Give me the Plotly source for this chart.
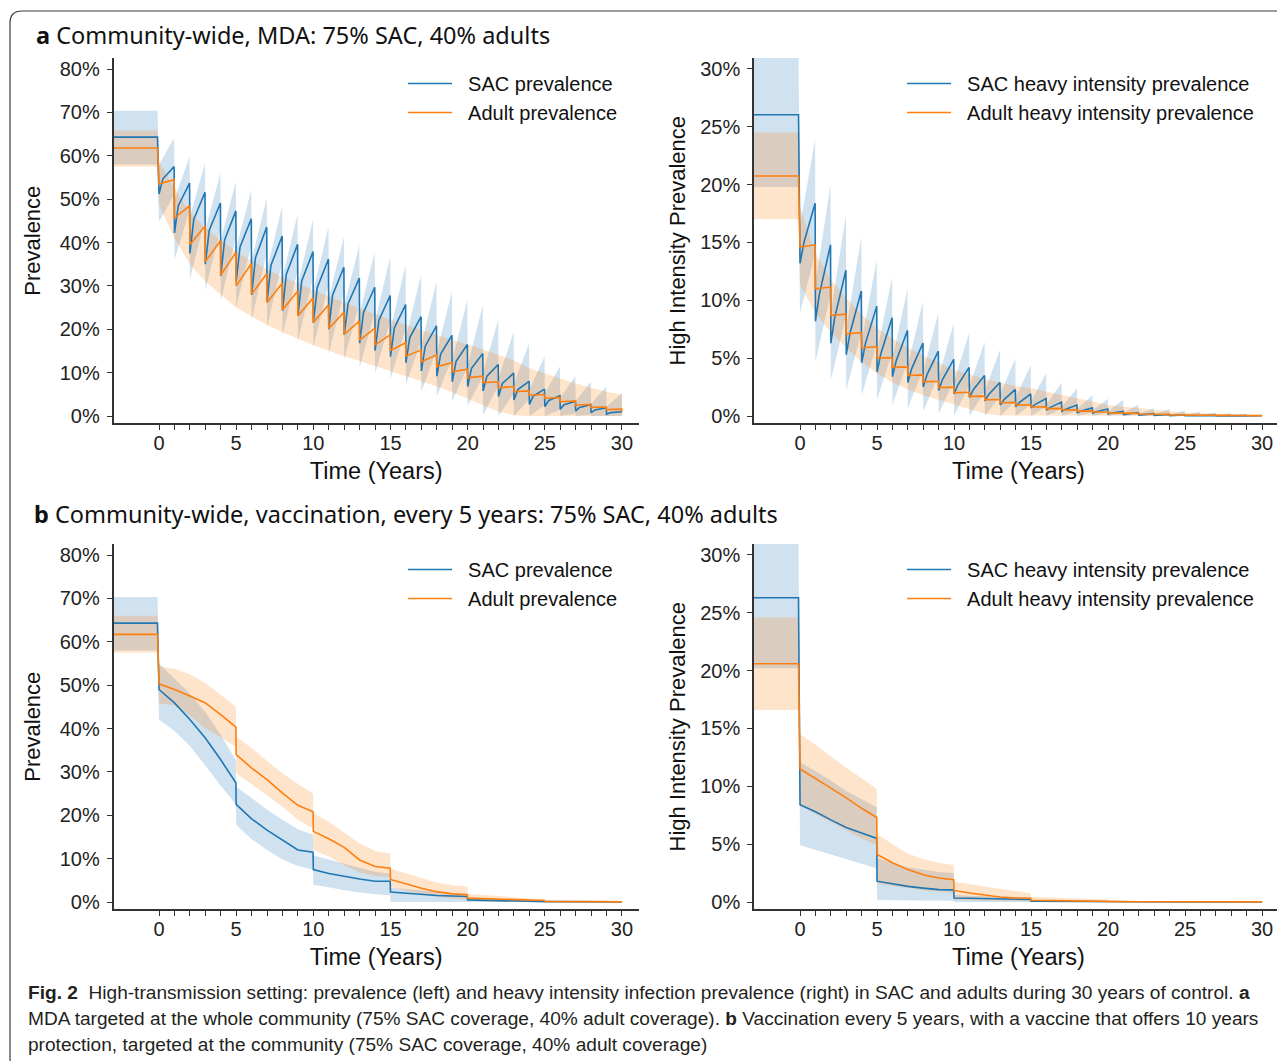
import plotly.graph_objects as go

W, H = 1285, 1061
OFF = 8                      # page body margin of the browser
FW, FH = W - OFF, H - OFF    # figure size so it ends at the window edge

# ======================= DATA (values in %) =======================
mda_years = list(range(30))          # yearly MDA rounds, t = 0..29
end_year = 30

# ---- Panel a-left: prevalence under community-wide MDA ----
mda_prev_pre = dict(sac=64.3, sac_lo=58.0, sac_hi=70.4, adult=61.8, adult_lo=57.5, adult_hi=65.8)
mda_prev_sac_trough = [51.2, 42.2, 37.5, 35.0, 32.3, 31.0, 27.9, 26.4, 24.3, 23.1, 21.5, 20.0, 18.7, 16.8, 15.1,
                       13.7, 12.3, 10.4, 9.2, 7.9, 6.8, 5.8, 4.5, 3.7, 2.7, 2.2, 1.6, 1.2, 0.8, 0.4]
mda_prev_sac_mid = [54.7, 48.5, 45.3, 42.8, 40.6, 39.0, 36.5, 34.7, 32.7, 31.2, 29.6, 27.9, 25.9, 23.9, 22.1,
                    20.3, 18.1, 16.1, 14.3, 12.6, 11.0, 9.2, 7.5, 6.1, 4.6, 3.6, 2.6, 2.0, 1.4, 0.8]
mda_prev_sac_peak = [57.5, 53.7, 51.6, 49.1, 47.3, 45.5, 43.6, 41.5, 39.6, 37.9, 36.2, 34.3, 31.8, 29.7, 27.8,
                     25.7, 22.9, 20.8, 18.6, 16.5, 14.4, 11.9, 9.9, 8.0, 6.2, 4.7, 3.4, 2.6, 1.9, 1.1]
mda_prev_sac_final = 1.0
mda_prev_sac_hi_trough = [58.0, 50.0, 46.0, 43.0, 40.5, 38.5, 36.0, 34.0, 32.0, 30.5, 29.0, 27.3, 25.5, 23.7, 21.8,
                          20.0, 18.3, 16.3, 14.7, 13.0, 11.6, 10.2, 8.7, 7.5, 6.2, 5.2, 4.3, 3.5, 2.8, 2.2]
mda_prev_sac_hi_peak = [64.1, 59.8, 58.3, 56.0, 54.1, 52.2, 50.2, 48.3, 46.5, 45.3, 43.6, 41.3, 39.4, 37.9, 36.7,
                        34.8, 32.5, 31.0, 28.7, 26.7, 25.6, 22.1, 19.4, 16.8, 13.7, 11.4, 9.1, 7.9, 6.8, 5.2]
mda_prev_sac_lo_trough = [44.8, 36.0, 31.5, 29.0, 26.5, 25.0, 22.0, 20.5, 18.5, 17.3, 15.8, 14.3, 13.0, 11.2, 9.8,
                          8.6, 7.2, 5.6, 4.5, 3.4, 2.3, 0.2, 0.0, 0.0, 0.0, 0.0, 0.0, 0.0, 0.0, 0.0]
mda_prev_sac_lo_peak = [51.0, 47.5, 45.5, 43.0, 41.3, 39.5, 37.6, 35.5, 33.6, 32.0, 30.3, 28.5, 26.0, 24.0, 22.0,
                        20.0, 17.3, 15.2, 13.2, 11.2, 9.2, 7.0, 5.3, 3.8, 2.5, 1.4, 0.6, 0.3, 0.1, 0.0]
mda_prev_sac_band_final = (0.0, 5.0)
mda_prev_adult_trough = [53.5, 45.6, 39.5, 35.6, 32.5, 30.0, 28.1, 26.2, 24.5, 23.1, 21.6, 20.2, 18.8, 17.5, 16.4,
                         15.1, 13.8, 12.5, 11.4, 10.2, 8.8, 7.7, 6.5, 5.6, 4.8, 4.1, 3.3, 2.5, 2.0, 1.5]
mda_prev_adult_peak = [54.5, 48.5, 43.8, 40.4, 37.7, 35.1, 32.8, 30.6, 28.8, 27.2, 25.6, 23.9, 21.9, 20.2, 18.7,
                       16.9, 15.2, 14.1, 12.3, 10.8, 9.2, 7.9, 6.8, 5.8, 5.0, 4.3, 3.5, 2.7, 2.1, 1.6]
mda_prev_adult_final = 1.0
mda_prev_adult_hi = [58.7, 52.5, 47.0, 43.5, 40.5, 38.0, 35.8, 33.8, 32.0, 30.5, 29.0, 27.6, 26.2, 24.8, 23.5,
                     22.2, 21.0, 19.8, 18.7, 17.6, 16.5, 15.4, 14.1, 12.8, 11.0, 9.8, 8.6, 7.5, 6.5, 5.6, 4.9]
mda_prev_adult_lo = [48.7, 41.0, 35.0, 31.0, 28.0, 25.0, 23.0, 21.0, 19.3, 17.8, 16.3, 15.0, 13.8, 12.7, 11.5,
                     10.3, 9.2, 8.0, 6.8, 5.5, 4.0, 2.5, 1.0, 0.2, 0.0, 0.0, 0.0, 0.0, 0.0, 0.0, 0.0]

# ---- Panel a-right: heavy intensity prevalence under community-wide MDA ----
mda_heavy_pre = dict(sac=26.05, sac_lo=19.8, sac_hi=31.5, adult=20.75, adult_lo=17.0, adult_hi=24.5)
mda_heavy_sac_trough = [13.2, 8.2, 6.3, 5.3, 4.6, 3.8, 3.4, 2.9, 2.5, 2.2, 1.9, 1.6, 1.3, 0.95, 0.8,
                        0.7, 0.5, 0.4, 0.3, 0.25, 0.18, 0.12, 0.08, 0.05, 0.03, 0.02, 0.02, 0.01, 0.01, 0.01]
mda_heavy_sac_mid = [15.0, 10.5, 8.5, 7.2, 6.3, 5.4, 4.8, 4.1, 3.6, 3.15, 2.7, 2.27, 1.86, 1.42, 1.19,
                     0.98, 0.75, 0.59, 0.44, 0.37, 0.26, 0.18, 0.12, 0.08, 0.05, 0.03, 0.03, 0.02, 0.02, 0.02]
mda_heavy_sac_peak = [18.4, 14.8, 12.6, 10.8, 9.5, 8.5, 7.4, 6.3, 5.6, 4.9, 4.2, 3.5, 2.9, 2.3, 1.9,
                      1.5, 1.2, 0.95, 0.7, 0.6, 0.4, 0.3, 0.2, 0.13, 0.08, 0.06, 0.05, 0.04, 0.03, 0.03]
mda_heavy_sac_final = 0.02
mda_heavy_sac_hi_trough = [16.5, 11.5, 9.0, 7.6, 6.5, 5.6, 5.0, 4.4, 3.9, 3.4, 3.0, 2.6, 2.2, 1.9, 1.6,
                           1.3, 1.0, 0.8, 0.6, 0.5, 0.4, 0.3, 0.2, 0.15, 0.1, 0.08, 0.06, 0.05, 0.04, 0.03]
mda_heavy_sac_hi_peak = [23.9, 20.0, 17.4, 15.5, 13.5, 12.0, 11.0, 9.9, 8.9, 8.0, 7.2, 6.4, 5.7, 5.0, 4.4,
                         3.7, 2.9, 2.4, 1.8, 1.5, 1.4, 1.0, 0.66, 0.6, 0.45, 0.37, 0.3, 0.25, 0.2, 0.15]
mda_heavy_sac_lo_trough = [8.9, 4.7, 3.1, 2.25, 1.8, 1.4, 0.95, 0.66, 0.4, 0.2, 0.05, 0.0, 0.0, 0.0, 0.0,
                           0.0, 0.0, 0.0, 0.0, 0.0, 0.0, 0.0, 0.0, 0.0, 0.0, 0.0, 0.0, 0.0, 0.0, 0.0]
mda_heavy_sac_lo_peak = [14.0, 10.5, 8.6, 7.2, 6.2, 5.5, 4.7, 4.0, 3.5, 3.0, 2.6, 2.1, 1.7, 1.3, 1.0,
                         0.8, 0.6, 0.45, 0.3, 0.25, 0.15, 0.1, 0.05, 0.03, 0.02, 0.01, 0.0, 0.0, 0.0, 0.0]
mda_heavy_sac_band_final = (0.0, 0.12)
mda_heavy_adult_trough = [14.6, 11.0, 8.7, 7.1, 5.9, 5.0, 4.2, 3.5, 2.95, 2.45, 2.0, 1.7, 1.4, 1.15, 0.95,
                          0.78, 0.64, 0.52, 0.42, 0.34, 0.27, 0.22, 0.17, 0.13, 0.10, 0.08, 0.06, 0.05, 0.04, 0.03]
mda_heavy_adult_peak = [14.8, 11.15, 8.8, 7.2, 6.0, 5.05, 4.25, 3.55, 3.0, 2.5, 2.05, 1.72, 1.43, 1.18, 0.97,
                        0.8, 0.66, 0.54, 0.44, 0.35, 0.28, 0.23, 0.18, 0.14, 0.11, 0.08, 0.06, 0.05, 0.04, 0.03]
mda_heavy_adult_final = 0.02
mda_heavy_adult_hi = [18.1, 14.1, 11.8, 10.2, 8.8, 7.6, 6.7, 5.9, 5.2, 4.6, 4.0, 3.6, 3.2, 2.9, 2.6, 2.4,
                      2.1, 1.8, 1.5, 1.2, 0.95, 0.8, 0.65, 0.52, 0.4, 0.3, 0.24, 0.18, 0.14, 0.11, 0.09]
mda_heavy_adult_lo = [11.3, 8.9, 7.2, 5.9, 4.7, 3.7, 2.9, 2.3, 1.8, 1.4, 1.0, 0.6, 0.2, 0.05, 0.0, 0.0,
                      0.0, 0.0, 0.0, 0.0, 0.0, 0.0, 0.0, 0.0, 0.0, 0.0, 0.0, 0.0, 0.0, 0.0, 0.0]

# ---- Panels b: vaccination every 5 years (sampled times, drops at 5, 10, 15, 20, 25) ----
vac_times = [0, 1, 2, 3, 4, 4.98, 5, 6, 7, 8, 9, 9.98, 10, 11, 12, 13, 14, 14.98,
             15, 16, 17, 18, 19, 19.98, 20, 21, 22, 23, 24, 24.98, 25, 30]

vac_prev_pre = dict(sac=64.3, sac_lo=58.0, sac_hi=70.3, adult=61.7, adult_lo=57.5, adult_hi=66.0)
vac_prev_sac = [49.0, 45.9, 42.1, 37.8, 32.8, 27.5, 22.5, 19.2, 16.6, 14.4, 12.0, 11.5, 7.5, 6.6, 5.9, 5.3,
                4.8, 4.8, 2.3, 2.0, 1.8, 1.5, 1.4, 1.3, 0.5, 0.45, 0.4, 0.3, 0.25, 0.2, 0.1, 0.05]
vac_prev_sac_hi = [55.0, 51.5, 48.0, 43.8, 38.5, 32.7, 26.6, 24.0, 21.3, 19.0, 16.8, 15.5, 10.8, 9.8, 8.8, 7.9,
                   7.0, 6.5, 3.3, 3.0, 2.7, 2.3, 2.1, 2.0, 0.9, 0.8, 0.7, 0.55, 0.45, 0.4, 0.15, 0.05]
vac_prev_sac_lo = [42.0, 39.5, 36.0, 31.5, 26.8, 22.5, 17.8, 14.5, 12.0, 9.8, 8.3, 7.5, 4.0, 3.4, 2.7, 2.2,
                   1.8, 1.6, 0.0, 0.0, 0.0, 0.0, 0.0, 0.0, 0.0, 0.0, 0.0, 0.0, 0.0, 0.0, 0.0, 0.0]
vac_prev_adult = [50.3, 49.0, 47.5, 45.9, 43.2, 40.3, 34.0, 30.9, 28.2, 25.1, 22.3, 20.8, 16.3, 14.6, 12.6, 9.7,
                  8.2, 7.8, 5.2, 4.2, 3.2, 2.4, 1.9, 1.7, 0.9, 0.8, 0.65, 0.5, 0.4, 0.35, 0.15, 0.05]
vac_prev_adult_hi = [54.3, 53.8, 52.5, 50.5, 47.8, 45.0, 38.1, 35.5, 32.5, 29.7, 27.2, 25.0, 20.4, 18.5, 16.0, 13.5,
                     11.8, 11.2, 7.7, 6.6, 5.5, 4.5, 3.9, 3.6, 1.9, 1.6, 1.3, 1.0, 0.8, 0.7, 0.3, 0.1]
vac_prev_adult_lo = [45.8, 45.3, 43.0, 40.0, 38.0, 35.8, 29.7, 27.0, 24.5, 22.0, 19.0, 17.0, 12.0, 10.5, 8.5, 6.8,
                     6.0, 5.8, 3.5, 2.6, 1.8, 1.2, 0.8, 0.6, 0.3, 0.2, 0.1, 0.05, 0.0, 0.0, 0.0, 0.0]

vac_heavy_pre = dict(sac=26.3, sac_lo=20.2, sac_hi=31.5, adult=20.6, adult_lo=16.6, adult_hi=24.6)
vac_heavy_sac = [8.4, 7.8, 7.1, 6.45, 5.96, 5.5, 1.8, 1.55, 1.35, 1.2, 1.07, 1.05, 0.35, 0.33, 0.3, 0.28,
                 0.25, 0.22, 0.06, 0.05, 0.05, 0.04, 0.04, 0.03, 0.01, 0.01, 0.01, 0.01, 0.01, 0.01, 0.0, 0.0]
vac_heavy_sac_hi = [12.1, 11.3, 10.5, 9.6, 8.9, 8.2, 3.8, 3.4, 3.0, 2.8, 2.6, 2.5, 0.6, 0.55, 0.5, 0.45,
                    0.42, 0.4, 0.1, 0.09, 0.08, 0.07, 0.06, 0.05, 0.02, 0.02, 0.02, 0.01, 0.01, 0.01, 0.0, 0.0]
vac_heavy_sac_lo = [4.9, 4.5, 4.1, 3.7, 3.3, 2.9, 0.2, 0.15, 0.1, 0.1, 0.1, 0.1, 0.0, 0.0, 0.0, 0.0,
                    0.0, 0.0, 0.0, 0.0, 0.0, 0.0, 0.0, 0.0, 0.0, 0.0, 0.0, 0.0, 0.0, 0.0, 0.0, 0.0]
vac_heavy_adult = [11.5, 10.7, 9.85, 9.0, 8.1, 7.3, 4.1, 3.4, 2.8, 2.35, 2.07, 1.93, 1.0, 0.78, 0.58, 0.43,
                   0.35, 0.32, 0.15, 0.12, 0.1, 0.08, 0.07, 0.06, 0.03, 0.03, 0.02, 0.02, 0.02, 0.02, 0.01, 0.01]
vac_heavy_adult_hi = [14.5, 13.6, 12.6, 11.6, 10.7, 9.8, 5.9, 5.0, 4.2, 3.7, 3.4, 3.2, 1.75, 1.55, 1.3, 1.1,
                      0.9, 0.75, 0.43, 0.38, 0.33, 0.28, 0.24, 0.22, 0.1, 0.08, 0.06, 0.05, 0.04, 0.03, 0.02, 0.01]
vac_heavy_adult_lo = [8.3, 7.6, 6.9, 6.2, 5.5, 4.9, 1.6, 1.4, 1.2, 1.0, 0.9, 0.8, 0.2, 0.15, 0.1, 0.08,
                      0.06, 0.05, 0.02, 0.02, 0.01, 0.01, 0.0, 0.0, 0.0, 0.0, 0.0, 0.0, 0.0, 0.0, 0.0, 0.0]

x_ticks = [0, 5, 10, 15, 20, 25, 30]
prev_ticks = [0, 10, 20, 30, 40, 50, 60, 70, 80]
heavy_ticks = [0, 5, 10, 15, 20, 25, 30]

titles = ["<b>a</b> Community-wide, MDA: 75% SAC, 40% adults",
          "<b>b</b> Community-wide, vaccination, every 5 years: 75% SAC, 40% adults"]
caption_lines = [
    "<b>Fig. 2</b>  High-transmission setting: prevalence (left) and heavy intensity infection prevalence (right) in SAC and adults during 30 years of control. <b>a</b>",
    "MDA targeted at the whole community (75% SAC coverage, 40% adult coverage). <b>b</b> Vaccination every 5 years, with a vaccine that offers 10 years",
    "protection, targeted at the community (75% SAC coverage, 40% adult coverage)",
]

# ======================= STYLE =======================
BLUE, ORANGE = "#1f77b4", "#ff7f0e"
BLUE_FILL, ORANGE_FILL = "rgba(31,119,180,0.21)", "rgba(255,127,14,0.21)"
AX_FONT = "Liberation Sans, Arial, sans-serif"
TITLE_FONT = "Noto Sans, Open Sans, sans-serif"
CAP_FONT = "Liberation Sans, Arial, sans-serif"
PRE_X = [-3.3, -0.1]
PEAK_OFF = 0.98
MID_OFF = 0.25
NB = "\u00a0\u00a0"   # small gap between legend key and label


def px(x):
    return (x - OFF) / FW


def py(y):
    return 1 - (y - OFF) / FH


# ======================= BUILD SERIES =======================
def saw_line(pre, trough, peak, final, mid=None):
    xs, ys = list(PRE_X), [pre, pre]
    for i, k in enumerate(mda_years):
        xs.append(k); ys.append(trough[i])
        if mid is not None:
            xs.append(k + MID_OFF); ys.append(mid[i])
        xs.append(k + PEAK_OFF); ys.append(peak[i])
    xs.append(end_year); ys.append(final)
    return xs, ys


def band_trace(xs, lo, hi, color, ax):
    return go.Scatter(x=list(xs) + list(xs)[::-1], y=list(hi) + list(lo)[::-1], fill="toself",
                      fillcolor=color, mode="lines", line=dict(width=0), hoverinfo="skip",
                      showlegend=False, xaxis=ax[0], yaxis=ax[1])


def line_trace(xs, ys, color, name, ax, legend):
    return go.Scatter(x=xs, y=ys, mode="lines", line=dict(color=color, width=1.6), name=NB + name,
                      xaxis=ax[0], yaxis=ax[1], legend=legend)


fig = go.Figure()


def add_mda_panel(ax, legend, pre, s_tr, s_mid, s_pk, s_fin, s_hi_tr, s_hi_pk, s_lo_tr, s_lo_pk, s_band_fin,
                  a_tr, a_pk, a_fin, a_hi, a_lo, names):
    bx, bhi = saw_line(pre["sac_hi"], s_hi_tr, s_hi_pk, s_band_fin[1])
    _, blo = saw_line(pre["sac_lo"], s_lo_tr, s_lo_pk, s_band_fin[0])
    fig.add_trace(band_trace(bx, blo, bhi, BLUE_FILL, ax))
    ox = PRE_X + list(range(end_year + 1))
    fig.add_trace(band_trace(ox, [pre["adult_lo"]] * 2 + a_lo, [pre["adult_hi"]] * 2 + a_hi, ORANGE_FILL, ax))
    sx, sy = saw_line(pre["sac"], s_tr, s_pk, s_fin, s_mid)
    fig.add_trace(line_trace(sx, sy, BLUE, names[0], ax, legend))
    axx, ay = saw_line(pre["adult"], a_tr, a_pk, a_fin)
    fig.add_trace(line_trace(axx, ay, ORANGE, names[1], ax, legend))


def add_vac_panel(ax, legend, pre, s, s_hi, s_lo, a, a_hi, a_lo, names):
    xs = PRE_X + vac_times
    fig.add_trace(band_trace(xs, [pre["sac_lo"]] * 2 + s_lo, [pre["sac_hi"]] * 2 + s_hi, BLUE_FILL, ax))
    fig.add_trace(band_trace(xs, [pre["adult_lo"]] * 2 + a_lo, [pre["adult_hi"]] * 2 + a_hi, ORANGE_FILL, ax))
    fig.add_trace(line_trace(xs, [pre["sac"]] * 2 + s, BLUE, names[0], ax, legend))
    fig.add_trace(line_trace(xs, [pre["adult"]] * 2 + a, ORANGE, names[1], ax, legend))


prev_names = ["SAC prevalence", "Adult prevalence"]
heavy_names = ["SAC heavy intensity prevalence", "Adult heavy intensity prevalence"]

add_mda_panel(("x", "y"), "legend", mda_prev_pre, mda_prev_sac_trough, mda_prev_sac_mid, mda_prev_sac_peak,
              mda_prev_sac_final, mda_prev_sac_hi_trough, mda_prev_sac_hi_peak, mda_prev_sac_lo_trough,
              mda_prev_sac_lo_peak, mda_prev_sac_band_final, mda_prev_adult_trough, mda_prev_adult_peak,
              mda_prev_adult_final, mda_prev_adult_hi, mda_prev_adult_lo, prev_names)
add_mda_panel(("x2", "y2"), "legend2", mda_heavy_pre, mda_heavy_sac_trough, mda_heavy_sac_mid, mda_heavy_sac_peak,
              mda_heavy_sac_final, mda_heavy_sac_hi_trough, mda_heavy_sac_hi_peak, mda_heavy_sac_lo_trough,
              mda_heavy_sac_lo_peak, mda_heavy_sac_band_final, mda_heavy_adult_trough, mda_heavy_adult_peak,
              mda_heavy_adult_final, mda_heavy_adult_hi, mda_heavy_adult_lo, heavy_names)
add_vac_panel(("x3", "y3"), "legend3", vac_prev_pre, vac_prev_sac, vac_prev_sac_hi, vac_prev_sac_lo,
              vac_prev_adult, vac_prev_adult_hi, vac_prev_adult_lo, prev_names)
add_vac_panel(("x4", "y4"), "legend4", vac_heavy_pre, vac_heavy_sac, vac_heavy_sac_hi, vac_heavy_sac_lo,
              vac_heavy_adult, vac_heavy_adult_hi, vac_heavy_adult_lo, heavy_names)

# ======================= AXES =======================
AXC = dict(showline=True, linecolor="#333333", linewidth=1.6, ticks="outside", ticklen=5, tickwidth=1.3,
           tickcolor="#333333", showgrid=False, zeroline=False, automargin=False,
           tickfont=dict(family=AX_FONT, size=20, color="#222222"))
minor = dict(tickvals=[v for v in range(1, 30) if v % 5], ticks="outside", ticklen=5, tickwidth=1.2,
             tickcolor="#333333")

top_dom = [py(423.4), py(58)]
bot_dom = [py(909.4), py(544)]
left_dom = [px(113.5), px(638.8)]
right_dom = [px(754), px(1283)]
left_xr = [-2.95, 31.09]
right_xr = [-2.99, 31.36]
prev_yr = [-1.69, 82.54]
heavy_yr = [-0.64, 30.95]


def xax(dom, rng, anchor):
    return dict(AXC, domain=dom, range=rng, anchor=anchor, tickvals=x_ticks, ticklabelstandoff=-4, minor=minor,
                title=dict(text="Time (Years)", font=dict(family=AX_FONT, size=23.5, color="#111"), standoff=9))


def yax(dom, rng, anchor, ticks, title, standoff):
    return dict(AXC, domain=dom, range=rng, anchor=anchor, tickvals=ticks, ticktext=[f"{v}%" for v in ticks],
                ticklabelstandoff=3,
                title=dict(text=title, font=dict(family=AX_FONT, size=22, color="#111"), standoff=standoff))


legend_common = dict(xanchor="left", yanchor="top", bgcolor="rgba(0,0,0,0)", borderwidth=0,
                     font=dict(family=AX_FONT, size=20, color="#111"), itemwidth=44, tracegroupgap=0)

fig.update_layout(
    width=FW, height=FH, template="none", autosize=False,
    margin=dict(l=0, r=0, t=0, b=0), paper_bgcolor="white", plot_bgcolor="white",
    xaxis=xax(left_dom, left_xr, "y"), yaxis=yax(top_dom, prev_yr, "x", prev_ticks, "Prevalence", 13),
    xaxis2=xax(right_dom, right_xr, "y2"),
    yaxis2=yax(top_dom, heavy_yr, "x2", heavy_ticks, "High Intensity Prevalence", 8),
    xaxis3=xax(left_dom, left_xr, "y3"), yaxis3=yax(bot_dom, prev_yr, "x3", prev_ticks, "Prevalence", 13),
    xaxis4=xax(right_dom, right_xr, "y4"),
    yaxis4=yax(bot_dom, heavy_yr, "x4", heavy_ticks, "High Intensity Prevalence", 8),
    legend=dict(legend_common, x=px(403), y=py(64)),
    legend2=dict(legend_common, x=px(902), y=py(64)),
    legend3=dict(legend_common, x=px(403), y=py(550)),
    legend4=dict(legend_common, x=px(902), y=py(550)),
    showlegend=True,
)

# ======================= TITLES, CAPTION, FRAME =======================
fig.add_annotation(text=titles[0], x=px(34), y=py(35), xref="paper", yref="paper", xanchor="left",
                   yanchor="middle", showarrow=False, font=dict(family=TITLE_FONT, size=23.5, color="#111"))
fig.add_annotation(text=titles[1], x=px(32), y=py(514), xref="paper", yref="paper", xanchor="left",
                   yanchor="middle", showarrow=False, font=dict(family=TITLE_FONT, size=23.5, color="#111"))
for i, line in enumerate(caption_lines):
    fig.add_annotation(text=line, x=px(26), y=py(992 + 26 * i), xref="paper", yref="paper", xanchor="left",
                       yanchor="middle", showarrow=False, font=dict(family=CAP_FONT, size=19.1, color="#231f20"))

r = 12
fig.add_shape(type="path", xref="paper", yref="paper",
              path=(f"M {px(10)},{py(H + 30)} L {px(10)},{py(11 + r)} "
                    f"Q {px(10)},{py(11)} {px(10 + r)},{py(11)} L {px(W + 30)},{py(11)}"),
              line=dict(color="#3a3a3a", width=1.2))

fig.write_html("out.html")
